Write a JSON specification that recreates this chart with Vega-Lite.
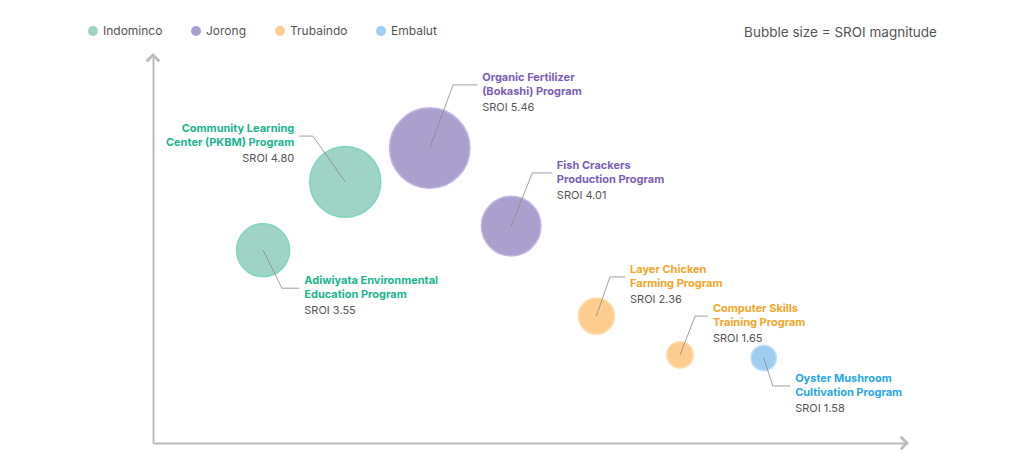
{
  "$schema": "https://vega.github.io/schema/vega-lite/v6.json",
  "description": "SROI bubble chart of community programs by mine site.",
  "autosize": {"type": "none"},
  "padding": {"left": 153, "top": 55, "right": 117, "bottom": 23},
  "width": 754,
  "height": 388,
  "background": "white",
  "title": {
    "text": "Bubble size = SROI magnitude",
    "anchor": "end",
    "frame": "group",
    "orient": "top",
    "offset": -14,
    "dx": 30,
    "fontSize": 13.5,
    "fontWeight": "normal",
    "color": "#555555",
    "font": "Inter"
  },
  "data": {
    "values": [
      {"program": ["Community Learning", "Center (PKBM) Program"], "mine": "Indominco", "sroi": 4.80, "x": 25.5, "y": 67.3, "ex": 21.2, "ey": 79.1, "hx": 19.4},
      {"program": ["Organic Fertilizer", "(Bokashi) Program"], "mine": "Jorong", "sroi": 5.46, "x": 36.7, "y": 76.0, "ex": 39.8, "ey": 92.3, "hx": 43.0},
      {"program": ["Fish Crackers", "Production Program"], "mine": "Jorong", "sroi": 4.01, "x": 47.5, "y": 55.9, "ex": 50.3, "ey": 69.6, "hx": 52.9},
      {"program": ["Adiwiyata Environmental", "Education Program"], "mine": "Indominco", "sroi": 3.55, "x": 14.6, "y": 49.7, "ex": 17.1, "ey": 39.9, "hx": 19.4},
      {"program": ["Layer Chicken", "Farming Program"], "mine": "Trubaindo", "sroi": 2.36, "x": 58.8, "y": 32.7, "ex": 60.6, "ey": 42.8, "hx": 62.6},
      {"program": ["Computer Skills", "Training Program"], "mine": "Trubaindo", "sroi": 1.65, "x": 69.9, "y": 22.7, "ex": 71.9, "ey": 32.7, "hx": 73.6},
      {"program": ["Oyster Mushroom", "Cultivation Program"], "mine": "Embalut", "sroi": 1.58, "x": 81.0, "y": 21.9, "ex": 82.2, "ey": 14.7, "hx": 84.5}
    ]
  },
  "transform": [
    {"calculate": "'SROI ' + format(datum.sroi, '.2f')", "as": "sroi_label"}
  ],
  "encoding": {
    "x": {
      "field": "x",
      "type": "quantitative",
      "scale": {"domain": [0, 100], "nice": false},
      "axis": {"labels": false, "ticks": false, "grid": false, "title": null, "domainColor": "#bbbbbb", "domainWidth": 2}
    },
    "y": {
      "field": "y",
      "type": "quantitative",
      "scale": {"domain": [0, 100], "nice": false},
      "axis": {"labels": false, "ticks": false, "grid": false, "title": null, "domainColor": "#bbbbbb", "domainWidth": 2}
    }
  },
  "layer": [
    {
      "mark": {"type": "circle", "opacity": 1, "strokeWidth": 1.5},
      "encoding": {
        "size": {
          "field": "sroi",
          "type": "quantitative",
          "scale": {"type": "pow", "exponent": 2, "zero": false, "domain": [1.58, 5.46], "range": [650, 6480]},
          "legend": null
        },
        "color": {
          "field": "mine",
          "type": "nominal",
          "scale": {
            "domain": ["Indominco", "Jorong", "Trubaindo", "Embalut"],
            "range": ["#9fd3c6", "#ab9fcd", "#fdcd8f", "#9fcdef"]
          },
          "legend": {
            "title": null,
            "orient": "none",
            "direction": "horizontal",
            "legendX": -66,
            "legendY": -30,
            "symbolType": "circle",
            "symbolSize": 100,
            "symbolStrokeWidth": 0,
            "symbolOpacity": 1,
            "labelFontSize": 12,
            "labelColor": "#555555",
            "labelFont": "Inter",
            "labelOffset": 4,
            "columnPadding": 27
          }
        },
        "stroke": {
          "field": "mine",
          "type": "nominal",
          "scale": {
            "domain": ["Indominco", "Jorong", "Trubaindo", "Embalut"],
            "range": ["#7fd6c0", "#c2b7e3", "#ffdcb0", "#bfe0f8"]
          },
          "legend": null
        }
      }
    },
    {
      "mark": {"type": "rule", "color": "#888888", "strokeWidth": 0.8},
      "encoding": {
        "x2": {"field": "ex"},
        "y2": {"field": "ey"}
      }
    },
    {
      "mark": {"type": "rule", "color": "#888888", "strokeWidth": 0.8},
      "encoding": {
        "x": {"field": "ex", "type": "quantitative"},
        "y": {"field": "ey", "type": "quantitative"},
        "x2": {"field": "hx"}
      }
    },
    {
      "transform": [{"filter": "datum.hx > datum.x"}],
      "mark": {"type": "text", "align": "left", "baseline": "middle", "dx": 5, "dy": -7, "fontSize": 11, "fontWeight": "bold", "lineHeight": 14, "font": "Inter"},
      "encoding": {
        "x": {"field": "hx", "type": "quantitative"},
        "y": {"field": "ey", "type": "quantitative"},
        "text": {"field": "program"},
        "fill": {
          "field": "mine",
          "type": "nominal",
          "scale": {
            "domain": ["Indominco", "Jorong", "Trubaindo", "Embalut"],
            "range": ["#1cb48f", "#7b5eb4", "#f5a52a", "#2aa6e6"]
          },
          "legend": null
        }
      }
    },
    {
      "transform": [{"filter": "datum.hx < datum.x"}],
      "mark": {"type": "text", "align": "right", "baseline": "middle", "dx": -5, "dy": -7, "fontSize": 11, "fontWeight": "bold", "lineHeight": 14, "font": "Inter"},
      "encoding": {
        "x": {"field": "hx", "type": "quantitative"},
        "y": {"field": "ey", "type": "quantitative"},
        "text": {"field": "program"},
        "fill": {"field": "mine", "type": "nominal", "legend": null}
      }
    },
    {
      "transform": [{"filter": "datum.hx > datum.x"}],
      "mark": {"type": "text", "align": "left", "baseline": "middle", "dx": 5, "dy": 23, "fontSize": 11, "color": "#555555", "font": "Inter"},
      "encoding": {
        "x": {"field": "hx", "type": "quantitative"},
        "y": {"field": "ey", "type": "quantitative"},
        "text": {"field": "sroi_label"}
      }
    },
    {
      "transform": [{"filter": "datum.hx < datum.x"}],
      "mark": {"type": "text", "align": "right", "baseline": "middle", "dx": -5, "dy": 23, "fontSize": 11, "color": "#555555", "font": "Inter"},
      "encoding": {
        "x": {"field": "hx", "type": "quantitative"},
        "y": {"field": "ey", "type": "quantitative"},
        "text": {"field": "sroi_label"}
      }
    },
    {
      "mark": {"type": "point", "shape": "M-1,1L0,0L1,1", "filled": false, "stroke": "#bbbbbb", "strokeWidth": 2, "size": 144, "opacity": 1},
      "encoding": {
        "x": {"datum": 0},
        "y": {"datum": 100}
      }
    },
    {
      "mark": {"type": "point", "shape": "M-1,-1L0,0L-1,1", "filled": false, "stroke": "#bbbbbb", "strokeWidth": 2, "size": 144, "opacity": 1},
      "encoding": {
        "x": {"datum": 100},
        "y": {"datum": 0}
      }
    }
  ],
  "config": {
    "view": {"stroke": null}
  }
}
